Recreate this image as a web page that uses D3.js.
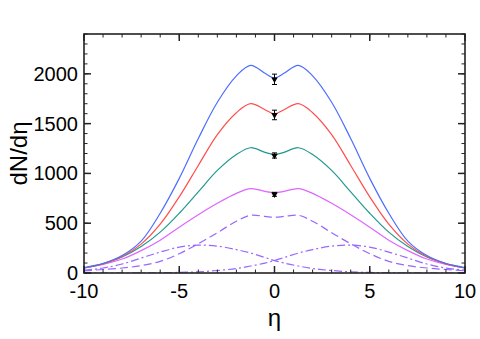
<!DOCTYPE html>
<html>
<head>
<meta charset="utf-8">
<script src="https://cdn.jsdelivr.net/npm/d3@7"></script>
<style>
  body { margin: 0; background: #fff; }
  svg { display: block; font-family: "Liberation Sans", Arial, sans-serif; }
</style>
</head>
<body>
<div id="chart"></div>
<script>
// eta grid shared by all curves
const eta = [-10, -9, -8, -7, -6, -5, -4, -3, -2, -1.25, -0.5, 0, 0.5, 1.25, 2, 3, 4, 5, 6, 7, 8, 9, 10];

const blue    = [50, 95, 175, 320, 600, 950, 1350, 1715, 1980, 2085, 2005, 1960, 2005, 2085, 1980, 1715, 1350, 950, 600, 320, 175, 95, 50];
const red     = [50, 90, 165, 290, 490, 765, 1080, 1390, 1610, 1700, 1640, 1600, 1640, 1700, 1610, 1390, 1080, 765, 490, 290, 165, 90, 50];
const teal    = [55, 95, 160, 265, 410, 600, 815, 1030, 1190, 1258, 1212, 1190, 1212, 1258, 1190, 1030, 815, 600, 410, 265, 160, 95, 55];
const magenta = [50, 85, 140, 225, 330, 460, 585, 700, 800, 847, 820, 807, 820, 847, 800, 700, 585, 460, 330, 225, 140, 85, 50];
const dashed  = [22, 35, 50, 74, 117, 194, 293, 405, 520, 580, 568, 560, 568, 580, 520, 405, 293, 194, 117, 74, 50, 35, 22];
const dotLeft = [28, 50, 90, 150, 210, 260, 280, 270, 235, 200, 155, 125, 100, 70, 45, 25, 12, 6, 3, 1, 0, 0, 0];
const dotRight = dotLeft.slice().reverse();

// data points at eta = 0 with errors
const ptY   = [1945, 1587, 1180, 790];
const ptErr = [52, 48, 26, 20];

const xTicks = [-10, -5, 0, 5, 10];
const yTicks = [0, 500, 1000, 1500, 2000];

const W = 480, H = 339;
const margin = { top: 34, right: 15, bottom: 66, left: 84 };

const svg = d3.select("#chart").append("svg")
  .attr("width", W).attr("height", H);

const x = d3.scaleLinear().domain([-10, 10]).range([margin.left, W - margin.right]);
const y = d3.scaleLinear().domain([0, 2400]).range([H - margin.bottom, margin.top]);

svg.append("defs").append("clipPath").attr("id", "plot")
  .append("rect")
  .attr("x", x(-10)).attr("y", y(2400))
  .attr("width", x(10) - x(-10)).attr("height", y(0) - y(2400));

const line = d3.line()
  .x(d => x(d[0]))
  .y(d => y(d[1]))
  .curve(d3.curveCatmullRom.alpha(0.5));

const series = [
  { v: dotLeft,  color: "#9966ff", dash: "8,3,2,3" },
  { v: dotRight, color: "#9966ff", dash: "8,3,2,3" },
  { v: dashed,   color: "#9966ff", dash: "8,4" },
  { v: magenta,  color: "#dd66ff", dash: null },
  { v: teal,     color: "#21998e", dash: null },
  { v: red,      color: "#ff4d4d", dash: null },
  { v: blue,     color: "#4d6dff", dash: null }
];

const plot = svg.append("g").attr("clip-path", "url(#plot)");
plot.selectAll("path.curve")
  .data(series)
  .join("path")
  .attr("class", "curve")
  .attr("fill", "none")
  .attr("stroke", d => d.color)
  .attr("stroke-width", 1.2)
  .attr("stroke-dasharray", d => d.dash)
  .attr("d", d => line(eta.map((e, i) => [e, d.v[i]])));

// error bars at eta = 0
const pts = svg.append("g");
ptY.forEach((v, i) => {
  const cx = x(0);
  pts.append("line")
    .attr("x1", cx).attr("x2", cx)
    .attr("y1", y(v - ptErr[i])).attr("y2", y(v + ptErr[i]))
    .attr("stroke", "#000").attr("stroke-width", 1);
  [v - ptErr[i], v + ptErr[i]].forEach(e => {
    pts.append("line")
      .attr("x1", cx - 2.5).attr("x2", cx + 2.5)
      .attr("y1", y(e)).attr("y2", y(e))
      .attr("stroke", "#000").attr("stroke-width", 1);
  });
  pts.append("path")
    .attr("d", d3.symbol().type(d3.symbolTriangle).size(18)())
    .attr("transform", `translate(${cx},${y(v)}) rotate(180)`)
    .attr("fill", "#000");
});

// axes with inward ticks on all four sides
const axisColor = "#222";
const xMinor = d3.range(-10, 10.01, 1);
const yMinor = d3.range(0, 2400.01, 100);

function drawX(yPos, dir) {
  const g = svg.append("g");
  g.selectAll("line.minor").data(xMinor).join("line")
    .attr("x1", d => x(d)).attr("x2", d => x(d))
    .attr("y1", yPos).attr("y2", yPos + dir * 3.5)
    .attr("stroke", axisColor).attr("stroke-width", 1);
  g.selectAll("line.major").data(xTicks).join("line")
    .attr("x1", d => x(d)).attr("x2", d => x(d))
    .attr("y1", yPos).attr("y2", yPos + dir * 7)
    .attr("stroke", axisColor).attr("stroke-width", 1.5);
}
function drawY(xPos, dir) {
  const g = svg.append("g");
  g.selectAll("line.minor").data(yMinor).join("line")
    .attr("x1", xPos).attr("x2", xPos + dir * 3.5)
    .attr("y1", d => y(d)).attr("y2", d => y(d))
    .attr("stroke", axisColor).attr("stroke-width", 1);
  g.selectAll("line.major").data(yTicks).join("line")
    .attr("x1", xPos).attr("x2", xPos + dir * 7)
    .attr("y1", d => y(d)).attr("y2", d => y(d))
    .attr("stroke", axisColor).attr("stroke-width", 1.5);
}
drawX(y(0), -1);
drawX(y(2400), 1);
drawY(x(-10), 1);
drawY(x(10), -1);

svg.append("rect")
  .attr("x", x(-10)).attr("y", y(2400))
  .attr("width", x(10) - x(-10)).attr("height", y(0) - y(2400))
  .attr("fill", "none").attr("stroke", axisColor).attr("stroke-width", 1.6);

// tick labels
svg.append("g").selectAll("text").data(xTicks).join("text")
  .attr("x", d => x(d))
  .attr("y", y(0) + 25)
  .attr("text-anchor", "middle")
  .style("font-size", "20px")
  .text(d => d);

svg.append("g").selectAll("text").data(yTicks).join("text")
  .attr("x", x(-10) - 6)
  .attr("y", d => y(d))
  .attr("dy", "0.35em")
  .attr("text-anchor", "end")
  .style("font-size", "20px")
  .text(d => d);

// axis titles
svg.append("text")
  .attr("x", x(0))
  .attr("y", 326)
  .attr("text-anchor", "middle")
  .style("font-size", "24px")
  .text("η");

svg.append("text")
  .attr("transform", `translate(27,${(y(0) + y(2400)) / 2}) rotate(-90)`)
  .attr("text-anchor", "middle")
  .style("font-size", "24px")
  .text("dN/dη");
</script>
</body>
</html>
